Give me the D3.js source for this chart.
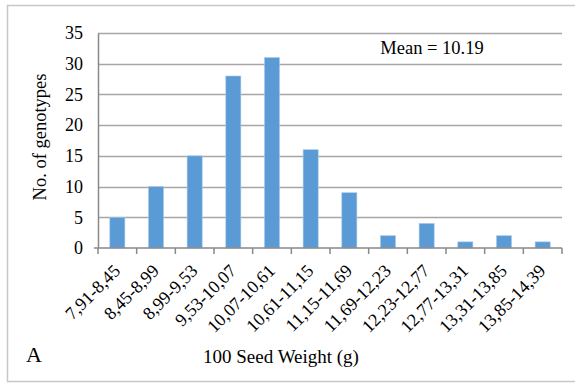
<!DOCTYPE html>
<html>
<head>
<meta charset="utf-8">
<script src="https://cdn.jsdelivr.net/npm/d3@7"></script>
<style>
  body { margin: 0; background: #fff; }
  text { font-family: "Liberation Serif", "Times New Roman", serif; fill: #000; }
</style>
</head>
<body>
<div id="chart"></div>
<script>
// Seed weight classes and genotype counts
const classes = ["7,91-8,45", "8,45-8,99", "8,99-9,53", "9,53-10,07", "10,07-10,61", "10,61-11,15",
                 "11,15-11,69", "11,69-12,23", "12,23-12,77", "12,77-13,31", "13,31-13,85", "13,85-14,39"];
const counts = [5, 10, 15, 28, 31, 16, 9, 2, 4, 1, 2, 1];
const yTicks = [0, 5, 10, 15, 20, 25, 30, 35];

const width = 575, height = 383;
const margin = { top: 33, right: 13, bottom: 135, left: 98 };

const svg = d3.select("#chart").append("svg")
    .attr("width", width)
    .attr("height", height);

// chart frame
svg.append("rect")
    .attr("x", 7.5).attr("y", 5.5)
    .attr("width", 580).attr("height", 376)
    .attr("fill", "none")
    .attr("stroke", "#c8c8c8")
    .attr("stroke-width", 1.5);

const x = d3.scaleBand()
    .domain(classes)
    .range([margin.left, width - margin.right])
    .paddingInner(0.61)
    .paddingOuter(0.305);

const y = d3.scaleLinear()
    .domain([0, 35])
    .range([height - margin.bottom, margin.top]);

// gridlines
svg.append("g")
    .selectAll("line")
    .data(yTicks.slice(1))
    .enter().append("line")
    .attr("x1", margin.left).attr("x2", width - margin.right)
    .attr("y1", d => Math.round(y(d)) + 0.5)
    .attr("y2", d => Math.round(y(d)) + 0.5)
    .attr("stroke", "#a6a6a6")
    .attr("stroke-width", 1.3);

// bars
svg.append("g")
    .selectAll("rect")
    .data(counts)
    .enter().append("rect")
    .attr("x", (d, i) => x(classes[i]))
    .attr("y", d => y(d))
    .attr("width", x.bandwidth())
    .attr("height", d => y(0) - y(d))
    .attr("fill", "#5b9bd5")
    .attr("stroke", "#a9c9ea")
    .attr("stroke-width", 0.6);

// y axis
const yAxis = svg.append("g")
    .attr("transform", `translate(${margin.left},0)`)
    .call(d3.axisLeft(y).tickValues(yTicks).tickSize(0).tickPadding(15));
yAxis.select(".domain").attr("stroke", "#898989").attr("stroke-width", 1.5);
yAxis.selectAll("text")
    .style("font-family", '"Liberation Serif", serif')
    .style("font-size", "18px");

// x axis with ticks at band boundaries
const x0 = y(0);
svg.append("line")
    .attr("x1", margin.left - 4).attr("x2", width - margin.right)
    .attr("y1", x0).attr("y2", x0)
    .attr("stroke", "#898989").attr("stroke-width", 1.5);
const step = x.step();
const bounds = d3.range(classes.length + 1).map(i => x(classes[0]) - x.step() * x.paddingOuter() + i * step);
svg.append("g")
    .selectAll("line")
    .data(bounds)
    .enter().append("line")
    .attr("x1", d => d).attr("x2", d => d)
    .attr("y1", x0).attr("y2", x0 + 6)
    .attr("stroke", "#898989").attr("stroke-width", 1.5);

// x tick labels, rotated
svg.append("g")
    .selectAll("text")
    .data(classes)
    .enter().append("text")
    .attr("transform", d => `translate(${x(d) + x.bandwidth() / 2 + 4},${x0 + 24}) rotate(-45)`)
    .attr("text-anchor", "end")
    .style("font-size", "18px")
    .text(d => d);

// axis titles
svg.append("text")
    .attr("transform", `translate(46,137) rotate(-90)`)
    .attr("text-anchor", "middle")
    .style("font-size", "18.5px")
    .text("No. of genotypes");

svg.append("text")
    .attr("x", 281).attr("y", 363)
    .attr("text-anchor", "middle")
    .style("font-size", "19px")
    .text("100 Seed Weight (g)");

svg.append("text")
    .attr("x", 26).attr("y", 362)
    .style("font-size", "22px")
    .text("A");

svg.append("text")
    .attr("x", 432).attr("y", 54)
    .attr("text-anchor", "middle")
    .style("font-size", "18.5px")
    .text("Mean = 10.19");
</script>
</body>
</html>
